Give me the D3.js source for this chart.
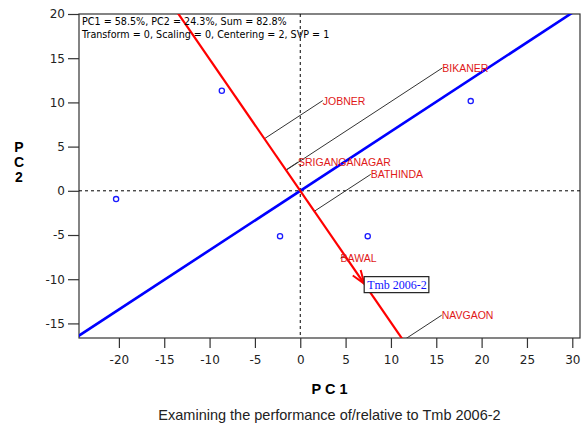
<!DOCTYPE html>
<html><head><meta charset="utf-8">
<script src="https://cdn.jsdelivr.net/npm/d3@7"></script>
<style>
body{margin:0;background:#fff}
svg{display:block}
</style>
</head><body>
<svg id="chart" width="582" height="425"></svg>
<script>
// Axis ticks
const xTicks = [-20, -15, -10, -5, 0, 5, 10, 15, 20, 25, 30];
const yTicks = [-15, -10, -5, 0, 5, 10, 15, 20];

// Environments (PC1, PC2)
const envNames = ["BIKANER", "JOBNER", "SRIGANGANAGAR", "BATHINDA", "BAWAL", "NAVGAON"];
const envPC1 = [15.67, 2.48, -0.25, 7.77, 4.44, 15.6];
const envPC2 = [13.9, 10.21, 3.25, 1.86, -7.62, -14.07];

// Genotypes (PC1, PC2)
const genoPC1 = [-8.65, -20.31, -2.23, 7.44, 18.8];
const genoPC2 = [11.32, -0.94, -5.13, -5.13, 10.15];

// Focal genotype
const focusName = "Tmb 2006-2";
const focusPC1 = 7.05;
const focusPC2 = -10.5;

const infoLines = [
  "PC1 = 58.5%, PC2 = 24.3%, Sum = 82.8%",
  "Transform = 0, Scaling = 0, Centering = 2, SVP = 1"
];
const xTitle = "P C 1";
const yTitle = ["P", "C", "2"];
const caption = "Examining the performance of/relative to Tmb 2006-2";

const svg = d3.select("#chart");
const L = 79, R = 580, T = 14, B = 338;
const x = d3.scaleLinear().domain([-24.4, 30.85]).range([L, R]);
const y = d3.scaleLinear().domain([-16.65, 20]).range([B, T]);
const sans = "'Liberation Sans', Arial, sans-serif";
const wide = "'DejaVu Sans', Verdana, sans-serif";

svg.append("defs").append("clipPath").attr("id", "plotClip")
  .append("rect").attr("x", L).attr("y", T).attr("width", R - L).attr("height", B - T);

// Axes
const xAxis = svg.append("g").attr("transform", `translate(0,${B})`)
  .call(d3.axisBottom(x).tickValues(xTicks).tickSize(10).tickPadding(7).tickFormat(d => String(d)));
const yAxis = svg.append("g").attr("transform", `translate(${L},0)`)
  .call(d3.axisLeft(y).tickValues(yTicks).tickSize(11).tickPadding(3).tickFormat(d => String(d)));
[xAxis, yAxis].forEach(g => {
  g.select(".domain").remove();
  g.selectAll(".tick line").attr("stroke", "#333").attr("stroke-width", 1.2);
  g.selectAll(".tick text").attr("fill", "#222").style("font-family", wide).style("font-size", "12px");
});

// Frame
svg.append("rect").attr("x", L).attr("y", T).attr("width", R - L).attr("height", B - T)
  .attr("fill", "none").attr("stroke", "#333").attr("stroke-width", 1.2);

const plot = svg.append("g").attr("clip-path", "url(#plotClip)");

// Origin reference lines
plot.append("line").attr("x1", x(0)).attr("x2", x(0)).attr("y1", T).attr("y2", B)
  .attr("stroke", "#000").attr("stroke-dasharray", "3,3");
plot.append("line").attr("x1", L).attr("x2", R).attr("y1", y(0)).attr("y2", y(0))
  .attr("stroke", "#000").attr("stroke-dasharray", "3,3");

// Genotype axis and its perpendicular
const len = Math.hypot(focusPC1, focusPC2);
const ux = focusPC1 / len, uy = focusPC2 / len;
const big = 100;
plot.append("line")
  .attr("x1", x(-big * uy)).attr("y1", y(big * ux))
  .attr("x2", x(big * uy)).attr("y2", y(-big * ux))
  .attr("stroke", "#0000ff").attr("stroke-width", 2.6);

// Projections of environments onto the genotype axis
envNames.forEach((n, i) => {
  const d = envPC1[i] * ux + envPC2[i] * uy;
  plot.append("line")
    .attr("x1", x(envPC1[i])).attr("y1", y(envPC2[i]))
    .attr("x2", x(d * ux)).attr("y2", y(d * uy))
    .attr("stroke", "#333").attr("stroke-width", 1);
});

plot.append("line")
  .attr("x1", x(-big * ux)).attr("y1", y(-big * uy))
  .attr("x2", x(big * ux)).attr("y2", y(big * uy))
  .attr("stroke", "#ff0000").attr("stroke-width", 2.2);

// Arrow head at the focal genotype
const tipX = x(focusPC1), tipY = y(focusPC2);
const ang = Math.atan2(tipY - y(0), tipX - x(0));
[-0.35, 0.35].forEach(a => {
  plot.append("line")
    .attr("x1", tipX).attr("y1", tipY)
    .attr("x2", tipX - 14 * Math.cos(ang + a)).attr("y2", tipY - 14 * Math.sin(ang + a))
    .attr("stroke", "#ff0000").attr("stroke-width", 2);
});

// Environment labels
plot.selectAll("text.env").data(envNames).enter().append("text")
  .attr("class", "env")
  .attr("x", (d, i) => x(envPC1[i]))
  .attr("y", (d, i) => y(envPC2[i]) + 4)
  .attr("fill", "#e01818")
  .style("font-family", sans).style("font-size", "10.5px")
  .text(d => d);

// Genotype markers
plot.selectAll("circle.geno").data(genoPC1).enter().append("circle")
  .attr("cx", (d, i) => x(d)).attr("cy", (d, i) => y(genoPC2[i]))
  .attr("r", 2.6).attr("fill", "none").attr("stroke", "#1a1aff").attr("stroke-width", 1.3);

// Focal genotype label box
const fg = svg.append("g");
const ft = fg.append("text")
  .attr("x", tipX + 3).attr("y", tipY + 5)
  .attr("fill", "#1010ff")
  .style("font-family", "'Liberation Serif', 'Times New Roman', serif").style("font-size", "12px")
  .text(focusName);
const bb = ft.node().getBBox();
fg.insert("rect", "text")
  .attr("x", tipX).attr("y", bb.y - 1).attr("width", bb.width + 5).attr("height", bb.height + 2)
  .attr("fill", "#fff").attr("stroke", "#222").attr("stroke-width", 1.2);

// Info text
svg.selectAll("text.info").data(infoLines).enter().append("text")
  .attr("x", L + 3).attr("y", (d, i) => 25 + i * 12.5)
  .attr("fill", "#000")
  .style("font-family", wide).style("font-size", "9.6px")
  .text(d => d);

// Axis titles
svg.append("text").attr("x", (L + R) / 2).attr("y", 394).attr("text-anchor", "middle")
  .style("font-family", sans).style("font-size", "14.5px").style("font-weight", "bold")
  .text(xTitle);
svg.selectAll("text.ytitle").data(yTitle).enter().append("text")
  .attr("x", 19).attr("y", (d, i) => 152 + i * 15).attr("text-anchor", "middle")
  .style("font-family", sans).style("font-size", "14px").style("font-weight", "bold")
  .text(d => d);

svg.append("text").attr("x", (L + R) / 2).attr("y", 420).attr("text-anchor", "middle")
  .attr("fill", "#222")
  .style("font-family", sans).style("font-size", "14.5px")
  .text(caption);
</script>
</body></html>
